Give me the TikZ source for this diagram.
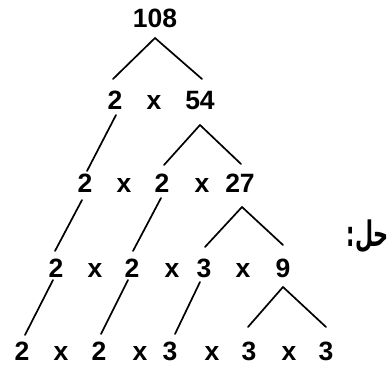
\documentclass[tikz,border=0pt]{standalone}
\usepackage{fontspec}
\setmainfont{Liberation Sans}
\newfontfamily\urdufont[Script=Arabic]{DejaVu Sans}
\TeXXeTstate=1
\begin{document}
\begin{tikzpicture}[x=1pt,y=-1pt,
  num/.style={font=\fontsize{26.5}{26.5}\selectfont\bfseries, anchor=base, inner sep=0pt},
  br/.style={line width=1.7pt, line cap=round}]
\useasboundingbox (0,0) rectangle (391,366);
% row 0
\node[num] (t) at (155,28) {108};
% row 1
\node[num] (a1) at (115,110) {2};
\node[num] (x11) at (154,110) {x};
\node[num] (b1) at (200,110) {54};
% row 2
\node[num] (a2) at (85,193) {2};
\node[num] (x21) at (124,193) {x};
\node[num] (b2) at (162,193) {2};
\node[num] (x22) at (202,193) {x};
\node[num] (c2) at (240,193) {27};
% row 3
\node[num] (a3) at (56,277) {2};
\node[num] (x31) at (95,277) {x};
\node[num] (b3) at (132,277) {2};
\node[num] (x32) at (172,277) {x};
\node[num] (c3) at (204,277) {3};
\node[num] (x33) at (243,277) {x};
\node[num] (d3) at (283,277) {9};
% row 4
\node[num] (a4) at (22,360) {2};
\node[num] (x41) at (61,360) {x};
\node[num] (b4) at (99,360) {2};
\node[num] (x42) at (140,360) {x};
\node[num] (c4) at (170,360) {3};
\node[num] (x43) at (212,360) {x};
\node[num] (d4) at (249,360) {3};
\node[num] (x44) at (289,360) {x};
\node[num] (e4) at (326,360) {3};
% label
\node[font=\urdufont\fontsize{26}{26}\selectfont\bfseries, inner sep=0pt, anchor=east] (hal) at (389,236) {\scalebox{0.8}[1.35]{\beginR حل:\endR}};
% connector ends
\coordinate (tS) at (155,38);
\coordinate (a1N) at (113,79);
\coordinate (b1N) at (202,79);
\coordinate (a1S) at (116,115);
\coordinate (a2N) at (87,171);
\coordinate (b1S) at (200,125);
\coordinate (b2N) at (164,165);
\coordinate (c2N) at (241,164);
\coordinate (a2S) at (82,200);
\coordinate (a3N) at (55,251);
\coordinate (b2S) at (161,198);
\coordinate (b3N) at (133,251);
\coordinate (c2S) at (242,207);
\coordinate (c3N) at (205,247);
\coordinate (d3N) at (283,245);
\coordinate (a3S) at (53,280);
\coordinate (a4N) at (25,335);
\coordinate (b3S) at (128,280);
\coordinate (b4N) at (101,334);
\coordinate (c3S) at (200,282);
\coordinate (c4N) at (175,334);
\coordinate (d3S) at (283,287);
\coordinate (d4N) at (248,327);
\coordinate (e4N) at (326,327);
% connectors
\draw[br] (a1N) -- (tS) -- (b1N);
\draw[br] (a1S) -- (a2N);
\draw[br] (b2N) -- (b1S) -- (c2N);
\draw[br] (a2S) -- (a3N);
\draw[br] (b2S) -- (b3N);
\draw[br] (c3N) -- (c2S) -- (d3N);
\draw[br] (a3S) -- (a4N);
\draw[br] (b3S) -- (b4N);
\draw[br] (c3S) -- (c4N);
\draw[br] (d4N) -- (d3S) -- (e4N);
\end{tikzpicture}
\end{document}
